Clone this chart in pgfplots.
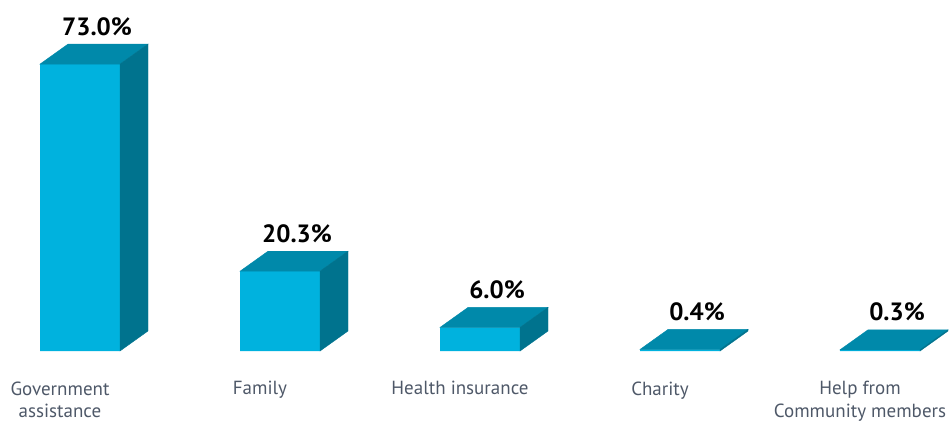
\documentclass[border=0pt]{standalone}
\usepackage{pgfplots}
\pgfplotsset{compat=1.18}
\usepackage{fontspec}
\setmainfont{PT Sans}
\definecolor{frontc}{RGB}{0,178,222}
\definecolor{topc}{RGB}{0,137,170}
\definecolor{sidec}{RGB}{0,115,142}
\definecolor{labc}{RGB}{78,88,104}
\pgfdeclareplotmark{emptymark}{}
\begin{document}
\begin{tikzpicture}
\useasboundingbox (0,0) rectangle (949pt,423pt);
\begin{axis}[
  at={(0pt,72pt)}, anchor=south west,
  x=200pt, y=3.93pt,
  xmin=-0.4, xmax=4.345, ymin=0, ymax=80,
  clip=false,
  axis line style={draw=none},
  ymajorticks=false,
  major tick length=0pt,
  /pgf/number format/assume math mode=true,
  xtick={-0.1,0.9,1.9,2.9,3.9},
  xticklabels={{Government\\assistance},{Family},{Health insurance},{Charity},{Help from\\Community members}},
  xticklabel style={align=center, font=\fontsize{19}{22.5}\selectfont, text=labc, yshift=-27pt, anchor=north},
]
\addplot[ybar, bar width=80pt, fill=frontc, draw=none,
  nodes near coords={\pgfmathprintnumber[fixed,fixed zerofill,precision=1,assume math mode=true]{\pgfplotspointmeta}\%},
  every node near coord/.append style={anchor=south, xshift=17pt, yshift=25pt, font=\fontsize{25}{29}\selectfont\bfseries, text=black},
] table {
x y
0 73.0
1 20.3
2 6.0
3 0.4
4 0.3
};
\addplot[scatter, only marks, mark=emptymark,
  visualization depends on={rawy \as \rawy},
  scatter/@pre marker code/.code={%
    \pgfmathsetmacro\hh{\rawy*3.93}%
    \fill[topc] (-40pt,0pt) -- (40pt,0pt) -- (68pt,20pt) -- (-12pt,20pt) -- cycle;
    \fill[sidec] (40pt,0pt) -- (68pt,20pt) -- (68pt,20pt-\hh pt) -- (40pt,-\hh pt) -- cycle;
  },
  scatter/@post marker code/.code={},
] table {
x y
0 73.0
1 20.3
2 6.0
3 0.4
4 0.3
};
\end{axis}
\end{tikzpicture}
\end{document}
